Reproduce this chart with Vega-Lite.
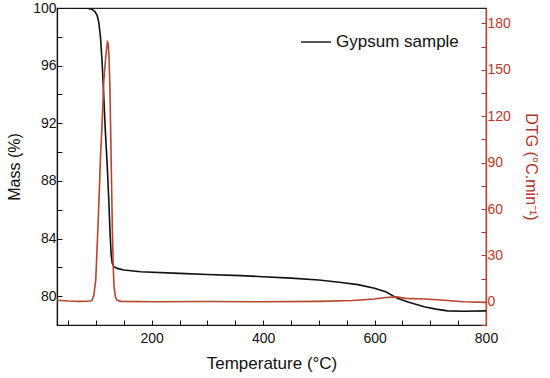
{
  "$schema": "https://vega.github.io/schema/vega-lite/v6.json",
  "autosize": "none",
  "width": 429,
  "height": 317,
  "padding": {"left": 57, "top": 8, "right": 64, "bottom": 53},
  "background": "white",
  "config": {
    "font": "Liberation Sans",
    "view": {"stroke": "#222", "strokeWidth": 1.2},
    "axis": {"grid": false, "labelFont": "Liberation Sans", "titleFont": "Liberation Sans", "titleFontWeight": "normal"}
  },
  "datasets": {
    "mass": [
      {"T": 30, "mass": 100}, {"T": 60, "mass": 100}, {"T": 85, "mass": 99.98}, {"T": 93, "mass": 99.9},
      {"T": 98, "mass": 99.75}, {"T": 102, "mass": 99.5}, {"T": 105, "mass": 99.0}, {"T": 108, "mass": 98.0},
      {"T": 111, "mass": 96.2}, {"T": 114, "mass": 93.8}, {"T": 117, "mass": 91.3}, {"T": 120, "mass": 89.2},
      {"T": 123, "mass": 86.6}, {"T": 125, "mass": 84.6}, {"T": 127, "mass": 83.0}, {"T": 129, "mass": 82.3},
      {"T": 132, "mass": 82.05}, {"T": 138, "mass": 81.93}, {"T": 150, "mass": 81.82}, {"T": 180, "mass": 81.7},
      {"T": 250, "mass": 81.58}, {"T": 300, "mass": 81.5}, {"T": 360, "mass": 81.43}, {"T": 400, "mass": 81.35},
      {"T": 450, "mass": 81.25}, {"T": 500, "mass": 81.12}, {"T": 540, "mass": 80.95}, {"T": 570, "mass": 80.8},
      {"T": 600, "mass": 80.55}, {"T": 620, "mass": 80.3}, {"T": 641, "mass": 79.85}, {"T": 660, "mass": 79.6},
      {"T": 689, "mass": 79.26}, {"T": 710, "mass": 79.1}, {"T": 731, "mass": 78.98}, {"T": 760, "mass": 78.95},
      {"T": 800, "mass": 78.98}
    ],
    "dtg": [
      {"T": 30, "dtg": 1}, {"T": 50, "dtg": 0.5}, {"T": 70, "dtg": 0.3}, {"T": 90, "dtg": 0.5}, {"T": 93, "dtg": 1},
      {"T": 96, "dtg": 4}, {"T": 99.5, "dtg": 14}, {"T": 102, "dtg": 35}, {"T": 105.4, "dtg": 66}, {"T": 108, "dtg": 93},
      {"T": 111.5, "dtg": 120}, {"T": 114, "dtg": 143}, {"T": 117.4, "dtg": 158}, {"T": 120.5, "dtg": 168},
      {"T": 122, "dtg": 167}, {"T": 123.4, "dtg": 158}, {"T": 125, "dtg": 138}, {"T": 126.4, "dtg": 109},
      {"T": 128, "dtg": 75}, {"T": 129.5, "dtg": 44}, {"T": 131, "dtg": 22}, {"T": 132.4, "dtg": 9.5},
      {"T": 135, "dtg": 3}, {"T": 138, "dtg": 1}, {"T": 145, "dtg": 0.3}, {"T": 200, "dtg": 0}, {"T": 300, "dtg": 0.2},
      {"T": 400, "dtg": 0}, {"T": 500, "dtg": 0.3}, {"T": 560, "dtg": 0.8}, {"T": 600, "dtg": 1.8}, {"T": 620, "dtg": 2.8},
      {"T": 640, "dtg": 3.2}, {"T": 655, "dtg": 2.2}, {"T": 690, "dtg": 1.8}, {"T": 720, "dtg": 1.2}, {"T": 760, "dtg": 0},
      {"T": 800, "dtg": -0.4}
    ]
  },
  "encoding": {
    "x": {
      "field": "T", "type": "quantitative",
      "scale": {"domain": [30, 800], "nice": false, "zero": false},
      "axis": {
        "title": "Temperature (°C)", "titleFontSize": 17, "titleColor": "#111", "titlePadding": 10,
        "values": [50, 100, 150, 200, 250, 300, 350, 400, 450, 500, 550, 600, 650, 700, 750, 800],
        "labelExpr": "datum.value % 200 == 0 ? datum.label : ''",
        "labelOverlap": false, "labelFlush": false,
        "labelFontSize": 14, "labelColor": "#111", "labelPadding": 11,
        "tickSize": -5, "tickColor": "#111", "domainColor": "#111", "domainWidth": 1.2
      }
    }
  },
  "layer": [
    {
      "data": {"name": "mass"},
      "mark": {"type": "line", "strokeWidth": 1.6, "clip": true},
      "transform": [{"calculate": "'Gypsum sample'", "as": "series"}],
      "encoding": {
        "y": {
          "field": "mass", "type": "quantitative",
          "scale": {"domain": [78, 100], "nice": false, "zero": false},
          "axis": {
            "title": "Mass (%)", "titleFontSize": 16, "titleColor": "#111", "titlePadding": 10,
            "values": [78, 80, 82, 84, 86, 88, 90, 92, 94, 96, 98, 100],
            "labelExpr": "datum.value % 4 == 0 ? datum.label : ''",
            "labelFontSize": 14, "labelColor": "#111", "labelPadding": 6,
            "tickSize": -5, "tickColor": "#111", "domainColor": "#111", "domainWidth": 1.2
          }
        },
        "color": {
          "field": "series", "type": "nominal",
          "scale": {"range": ["#111111"]},
          "legend": {
            "title": null, "orient": "none", "legendX": 243, "legendY": 18,
            "symbolType": "stroke", "symbolSize": 900, "symbolStrokeWidth": 1.4,
            "labelFontSize": 17, "labelColor": "#111", "labelFont": "Liberation Sans"
          }
        }
      }
    },
    {
      "data": {"name": "dtg"},
      "mark": {"type": "line", "strokeWidth": 1.6, "color": "#b3462c", "clip": true},
      "encoding": {
        "y": {
          "field": "dtg", "type": "quantitative",
          "scale": {"domain": [-15, 190], "nice": false, "zero": false},
          "axis": {
            "orient": "right",
            "title": "DTG (°C.min⁻¹)", "titleFontSize": 16, "titleColor": "#b5342a", "titlePadding": 12,
            "values": [-15, 0, 15, 30, 45, 60, 75, 90, 105, 120, 135, 150, 165, 180],
            "labelExpr": "datum.value % 30 == 0 ? datum.label : ''",
            "labelFontSize": 14, "labelColor": "#c0392b", "labelPadding": 6,
            "tickSize": -5, "tickColor": "#c0392b", "domainColor": "#c0392b", "domainWidth": 1.2
          }
        }
      }
    }
  ],
  "resolve": {"scale": {"y": "independent"}}
}
